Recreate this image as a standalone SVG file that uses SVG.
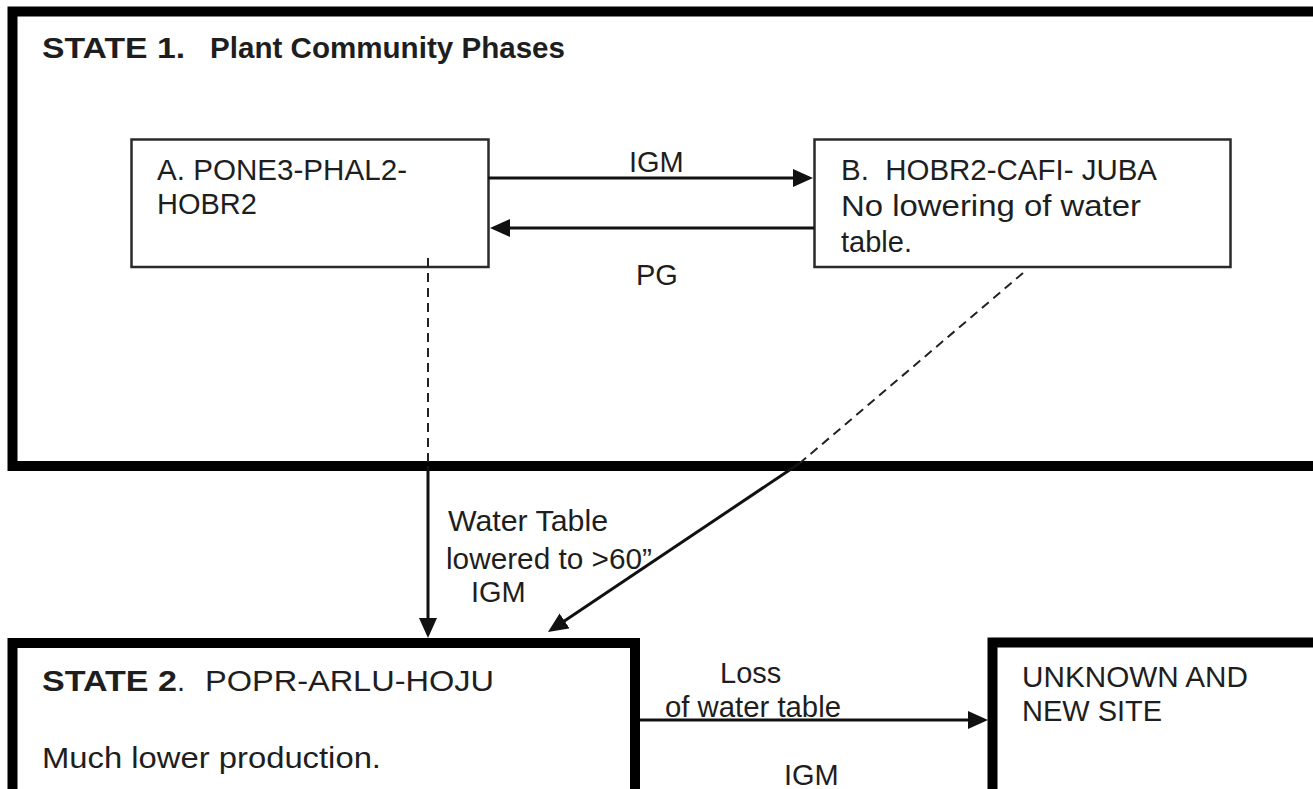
<svg xmlns="http://www.w3.org/2000/svg" width="1313" height="789" viewBox="0 0 1313 789">
<style>
.t{font-family:"Liberation Sans",Arial,sans-serif;font-size:29px;fill:#1e1e1e}
.b{font-weight:bold}
.state{fill:none;stroke:#000;stroke-width:10}
.phase{fill:#fff;stroke:#2a2a2a;stroke-width:2.5}
.arr{fill:none;stroke:#111;stroke-width:3}
.dash{fill:none;stroke:#222;stroke-width:2;stroke-dasharray:9 6}
</style>
<defs>
<marker id="ah" markerUnits="userSpaceOnUse" markerWidth="20" markerHeight="18" viewBox="0 0 20 18" refX="16" refY="9" orient="auto">
<path d="M0,0 L20,9 L0,18 z" fill="#111"/>
</marker>
</defs>
<rect width="1313" height="789" fill="#fff"/>
<g id="state1">
<rect class="state" x="12.5" y="11.5" width="1330" height="454.5"/>
<text class="t b" x="42" y="58" textLength="143" lengthAdjust="spacingAndGlyphs">STATE 1.</text>
<text class="t b" x="210" y="58" textLength="355" lengthAdjust="spacingAndGlyphs">Plant Community Phases</text>
</g>
<g id="phaseA">
<rect class="phase" x="131.5" y="139.5" width="357" height="127.5"/>
<text class="t" x="157" y="180" textLength="250" lengthAdjust="spacingAndGlyphs">A. PONE3-PHAL2-</text>
<text class="t" x="157" y="214">HOBR2</text>
</g>
<g id="phaseB">
<rect class="phase" x="814.5" y="139.5" width="416" height="127.5"/>
<text class="t" x="841" y="180" textLength="316" lengthAdjust="spacingAndGlyphs">B.&#160; HOBR2-CAFI- JUBA</text>
<text class="t" x="841" y="216" textLength="300" lengthAdjust="spacingAndGlyphs">No lowering of water</text>
<text class="t" x="841" y="252">table.</text>
</g>
<g id="state2">
<rect class="state" x="12.5" y="643" width="622.5" height="200"/>
<text class="t" x="42" y="691"><tspan class="b" textLength="135" lengthAdjust="spacingAndGlyphs">STATE 2</tspan>.</text>
<text class="t" x="205" y="691" textLength="289" lengthAdjust="spacingAndGlyphs">POPR-ARLU-HOJU</text>
<text class="t" x="42" y="768" textLength="339" lengthAdjust="spacingAndGlyphs">Much lower production.</text>
</g>
<g id="unknown">
<rect class="state" x="992.5" y="642.5" width="400" height="200"/>
<text class="t" x="1022" y="687" textLength="226" lengthAdjust="spacingAndGlyphs">UNKNOWN AND</text>
<text class="t" x="1022" y="721">NEW SITE</text>
</g>
<g id="connectors">
<line class="arr" x1="488" y1="178" x2="809" y2="178" marker-end="url(#ah)"/>
<text class="t" x="629" y="172">IGM</text>
<line class="arr" x1="814" y1="228" x2="494" y2="228" marker-end="url(#ah)"/>
<text class="t" x="636" y="285">PG</text>
<line class="dash" x1="428" y1="258" x2="428" y2="462"/>
<line class="arr" x1="428" y1="466" x2="428" y2="634" marker-end="url(#ah)"/>
<line class="dash" x1="1023" y1="273" x2="800" y2="463"/>
<line class="arr" x1="800" y1="463" x2="551.3" y2="629.8" stroke-width="3.5" marker-end="url(#ah)"/>
<text class="t" x="448" y="531" textLength="160" lengthAdjust="spacingAndGlyphs">Water Table</text>
<text class="t" x="446" y="569" textLength="206" lengthAdjust="spacingAndGlyphs">lowered to &gt;60”</text>
<text class="t" x="471" y="602">IGM</text>
<line class="arr" x1="640" y1="720" x2="984" y2="720" marker-end="url(#ah)"/>
<text class="t" x="720" y="683">Loss</text>
<text class="t" x="665" y="717" textLength="176" lengthAdjust="spacingAndGlyphs">of water table</text>
<text class="t" x="784" y="785">IGM</text>
</g>
</svg>
